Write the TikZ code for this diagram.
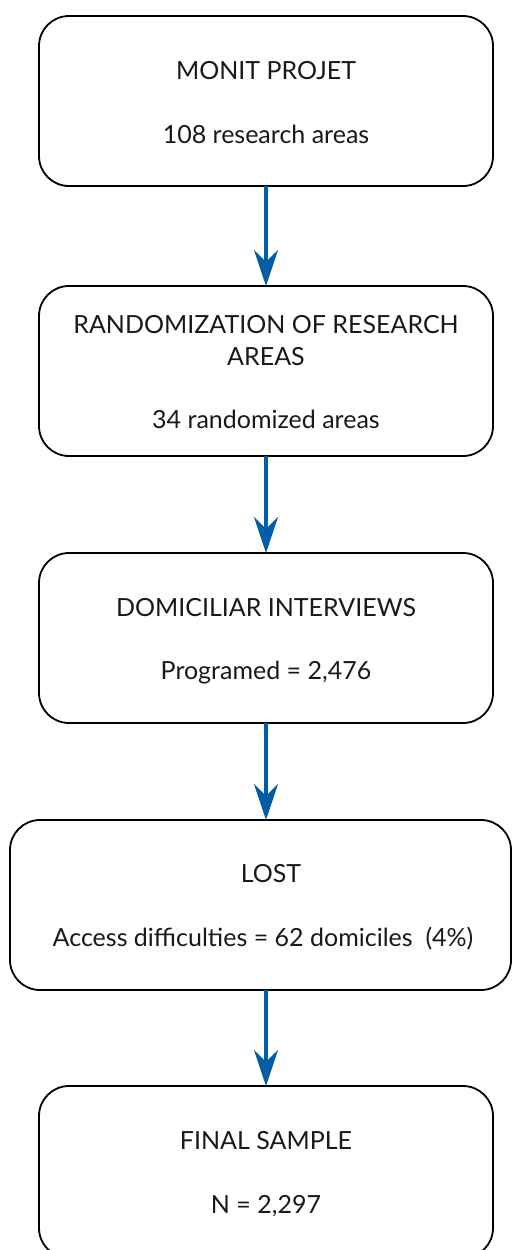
\documentclass[tikz,border=0pt]{standalone}
\usepackage{fontspec}
\setmainfont{Lato}
\usetikzlibrary{arrows.meta}
\definecolor{arrowblue}{HTML}{005DA6}
\tikzset{
  flowbox/.style={draw=black, line width=1.8pt, rounded corners=30pt, fill=none},
  boxtext/.style={anchor=base, inner sep=0pt, font=\fontsize{25}{30}\selectfont, text=black!90},
  flowarrow/.style={draw=arrowblue, line width=4pt, -{Stealth[length=36pt,width=24pt,inset=12pt]}, shorten >=0pt}
}
\begin{document}
\begin{tikzpicture}[x=1pt,y=-1pt]
\useasboundingbox (0,0) rectangle (512,1250);
% boxes
\path[flowbox] (39,16) rectangle (493,186);
\coordinate (b1t) at (266,16); \coordinate (b1b) at (266,186);
\path[flowbox] (39,286) rectangle (493,456);
\coordinate (b2t) at (266,286); \coordinate (b2b) at (266,456);
\path[flowbox] (39,553) rectangle (493,723);
\coordinate (b3t) at (266,553); \coordinate (b3b) at (266,723);
\path[flowbox] (10,820) rectangle (511,990);
\coordinate (b4t) at (266,820); \coordinate (b4b) at (266,990);
\path[flowbox] (39,1086) rectangle (493,1258);
\coordinate (b5t) at (266,1086);
% texts
\node[boxtext] (t1a) at (266,79) {MONIT PROJET};
\node[boxtext] (t1b) at (266,143) {108 research areas};
\node[boxtext] (t2a) at (266,333) {RANDOMIZATION OF RESEARCH};
\node[boxtext] (t2b) at (266,365) {AREAS};
\node[boxtext] (t2c) at (266,428) {34 randomized areas};
\node[boxtext] (t3a) at (266,616) {DOMICILIAR INTERVIEWS};
\node[boxtext] (t3b) at (266,679) {Programed = 2,476};
\node[boxtext] (t4a) at (271,882) {LOST};
\node[boxtext] (t4b) at (263,946) {Access difficulties = 62 domiciles\ \ (4\%)};
\node[boxtext] (t5a) at (266,1149) {FINAL SAMPLE};
\node[boxtext] (t5b) at (266,1213) {N = 2,297};
% arrows
\draw[flowarrow] (b1b) -- (b2t);
\draw[flowarrow] (b2b) -- (b3t);
\draw[flowarrow] (b3b) -- (b4t);
\draw[flowarrow] (b4b) -- (b5t);
\end{tikzpicture}
\end{document}
